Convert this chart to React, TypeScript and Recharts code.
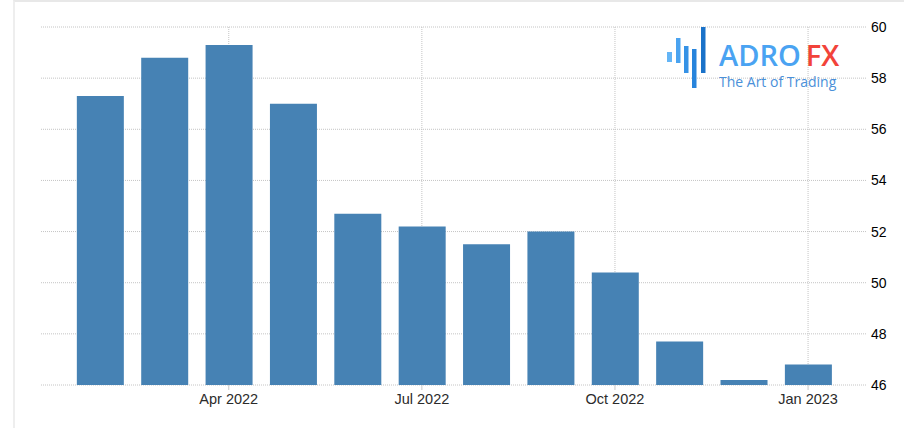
import React from 'react';
import { BarChart, Bar, XAxis, YAxis, CartesianGrid } from 'recharts';

// monthly readings, Feb 2022 .. Jan 2023
const months = [
  'Feb 2022', 'Mar 2022', 'Apr 2022', 'May 2022', 'Jun 2022', 'Jul 2022',
  'Aug 2022', 'Sep 2022', 'Oct 2022', 'Nov 2022', 'Dec 2022', 'Jan 2023',
];
const values = [57.3, 58.8, 59.3, 57.0, 52.7, 52.2, 51.5, 52.0, 50.4, 47.7, 46.2, 46.8];
const tickLabels = ['Apr 2022', 'Jul 2022', 'Oct 2022', 'Jan 2023'];
const yTicks = [46, 48, 50, 52, 54, 56, 58, 60];

const data = months.map((m, i) => ({ i, month: m, value: values[i] }));
const xTicks = tickLabels.map((t) => months.indexOf(t));
const xDomain: [number, number] = [-0.917, 11.9];

// vertical grid only at the labelled months, no border lines
const verticalAtTicks = ({ offset }: any) =>
  xTicks.map((t) => offset.left + ((t - xDomain[0]) / (xDomain[1] - xDomain[0])) * offset.width);

const Logo: React.FC = () => (
  <svg width={904} height={428} style={{ position: 'absolute', left: 0, top: 0, pointerEvents: 'none' }}>
    <rect x={667} y={52} width={5} height={10} fill="#64b5f6" />
    <rect x={676} y={38} width={4.5} height={25} fill="#4aa3f0" />
    <rect x={684} y={46} width={4.5} height={27} fill="#3592e6" />
    <rect x={692} y={49} width={4.5} height={39} fill="#2784dc" />
    <rect x={701} y={27} width={4.5} height={46} fill="#1a72c9" />
    <text x={719} y={66} fontFamily="'Open Sans', sans-serif" fontSize={29} fontWeight={600}>
      <tspan fill="#4aa3f2">ADRO</tspan>
      <tspan fill="#f2433a" dx={5}>FX</tspan>
    </text>
    <text x={719} y={87} fontFamily="'Open Sans', sans-serif" fontSize={14} fill="#4a90d9">
      The Art of Trading
    </text>
  </svg>
);

export default function App() {
  return (
    <div style={{ position: 'relative', width: 904, height: 428, background: '#fff', overflow: 'hidden' }}>
      <style>{'body{margin:0}'}</style>
      <div
        style={{
          position: 'absolute', left: 13, top: 0, width: 900, height: 440,
          borderTop: '2px solid #e8e8e8', borderLeft: '2px solid #eeeeee',
        }}
      />
      <BarChart
        width={904}
        height={428}
        data={data}
        margin={{ top: 27, right: 0, bottom: 0, left: 41 }}
        style={{ fontFamily: "'Liberation Sans', Arial, sans-serif" }}
      >
        <CartesianGrid stroke="#c4c4c4" strokeDasharray="1 1" verticalCoordinatesGenerator={verticalAtTicks} />
        <XAxis
          dataKey="i"
          type="number"
          domain={xDomain}
          allowDataOverflow
          ticks={xTicks}
          tickFormatter={(v) => months[v]}
          axisLine={false}
          tickLine={{ stroke: '#c8c8c8' }}
          tickSize={5}
          tickMargin={4}
          height={43}
          tick={{ fill: '#2b2b2b', fontSize: 14.5 }}
        />
        <YAxis
          orientation="right"
          domain={[46, 60]}
          ticks={yTicks}
          allowDataOverflow
          axisLine={false}
          tickLine={false}
          tickSize={0}
          tickMargin={5}
          width={38}
          tick={{ fill: '#000', fontSize: 14, textAnchor: 'start' }}
        />
        <Bar dataKey="value" fill="#4682b4" barSize={47} isAnimationActive={false} />
      </BarChart>
      <Logo />
    </div>
  );
}
